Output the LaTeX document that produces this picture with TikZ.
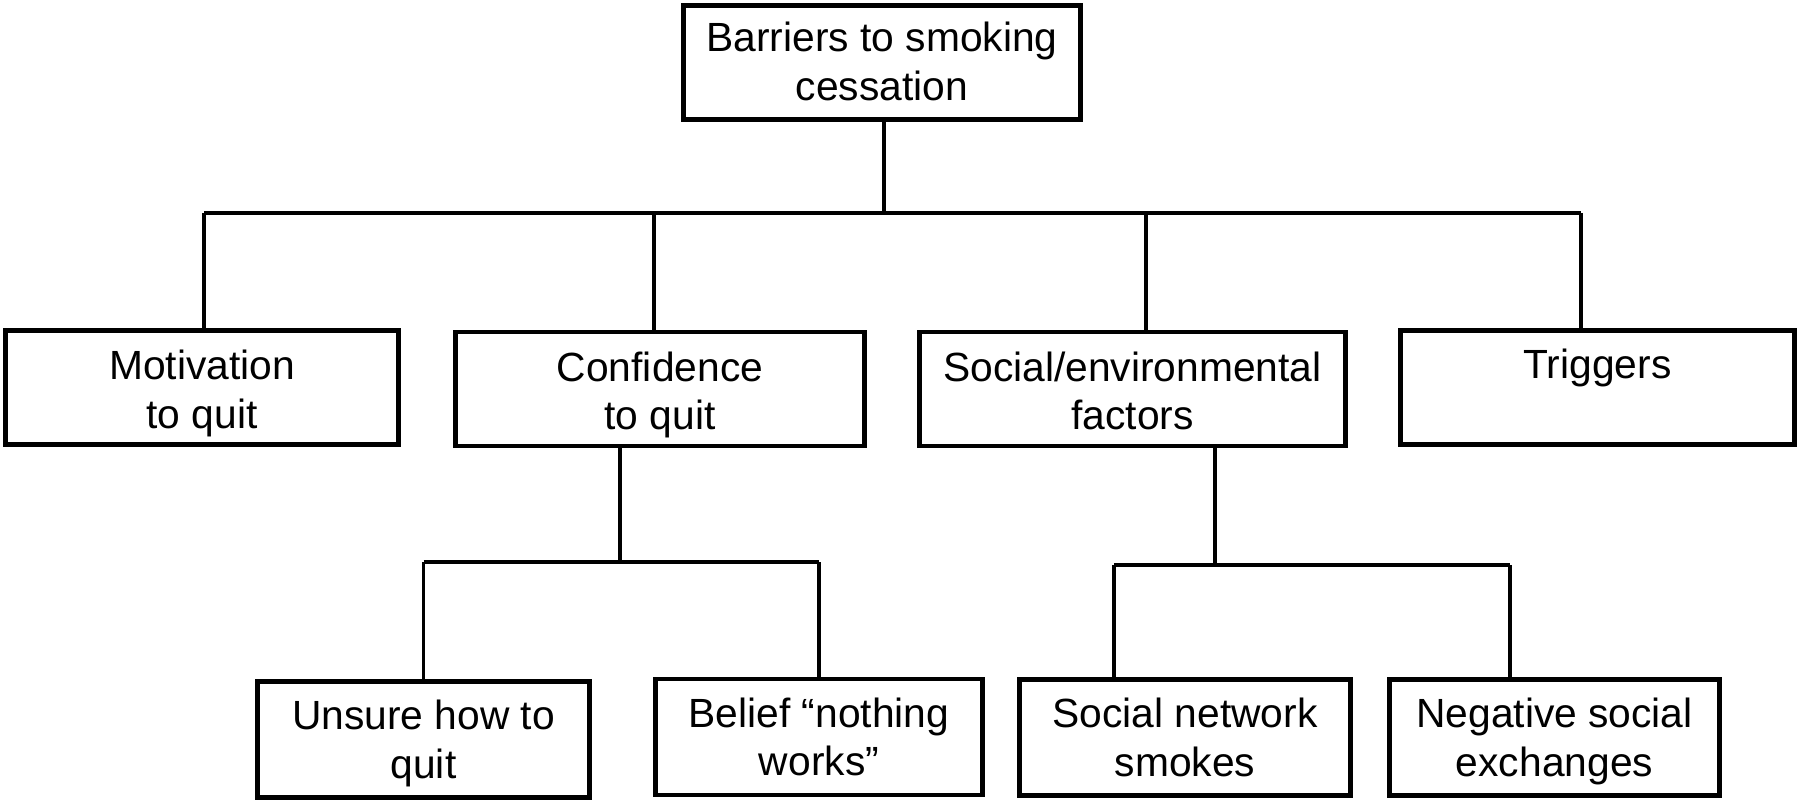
\documentclass[tikz,border=0pt]{standalone}
\usepackage{fontspec}
\setmainfont{Liberation Sans}
\usetikzlibrary{positioning}

\tikzset{
    box/.style={draw, line width=1.4pt, align=center, inner sep=0pt,
        minimum height=1.14cm, text height=0.77cm, text depth=0pt,
        font=\fontsize{11.6}{13.7}\selectfont},
    link/.style={line width=1.1pt},
}

\begin{document}
\begin{tikzpicture}
    \useasboundingbox (0,0) rectangle (18,-8.02);
    % Top box
    \node[box, minimum width=3.97cm, text height=0.75cm] (barriers) at (8.82,-0.625) {Barriers to smoking\\cessation};
    % Second row
    \node[box, minimum width=3.93cm, text height=0.81cm] (motivation) at (2.02,-3.875) {Motivation\\to quit};
    \node[box, minimum width=4.09cm, text height=0.81cm] (confidence) at (6.60,-3.89) {Confidence\\to quit};
    \node[box, minimum width=4.26cm, text height=0.81cm] (social) at (11.325,-3.89) {Social/environmental\\factors};
    \node[box, minimum width=3.94cm, text height=0pt, text depth=0.19cm] (triggers) at (15.975,-3.875) {Triggers};
    % Third row
    \node[box, minimum width=3.32cm, minimum height=1.16cm] (unsure) at (4.235,-7.395) {Unsure how to\\quit};
    \node[box, minimum width=3.27cm, minimum height=1.16cm] (belief) at (8.19,-7.37) {Belief “nothing\\works”};
    \node[box, minimum width=3.31cm, minimum height=1.16cm] (network) at (11.85,-7.375) {Social network\\smokes};
    \node[box, minimum width=3.30cm, minimum height=1.16cm] (negative) at (15.545,-7.375) {Negative social\\exchanges};
    %
    % Connectors
    %
    \coordinate (busA) at (0,-2.13);
    \coordinate (busB) at (0,-5.62);
    \coordinate (busC) at (0,-5.65);
    \coordinate (topout) at ([xshift=0.2mm]barriers.south);
    \coordinate (motin) at ([xshift=0.2mm]motivation.north);
    \coordinate (confin) at ([xshift=-0.6mm]confidence.north);
    \coordinate (socin) at ([xshift=1.35mm]social.north);
    \coordinate (trigin) at ([xshift=-1.65mm]triggers.north);
    \draw[link] (topout) -- (topout |- busA);
    \draw[link] (motin |- busA) -- (trigin |- busA);
    \draw[link] (motin) -- (motin |- busA);
    \draw[link] (confin) -- (confin |- busA);
    \draw[link] (socin) -- (socin |- busA);
    \draw[link] (trigin) -- (trigin |- busA);
    % Confidence branch
    \coordinate (confout) at ([xshift=-4mm]confidence.south);
    \draw[link] (confout) -- (confout |- busB);
    \draw[link] (unsure.north |- busB) -- (belief.north |- busB);
    \draw[link] (unsure.north) -- (unsure.north |- busB);
    \draw[link] (belief.north) -- (belief.north |- busB);
    % Social branch
    \coordinate (socout) at ([xshift=8.25mm]social.south);
    \coordinate (netin) at ([xshift=-7.1mm]network.north);
    \coordinate (negin) at ([xshift=-4.45mm]negative.north);
    \draw[link] (socout) -- (socout |- busC);
    \draw[link] (netin |- busC) -- (negin |- busC);
    \draw[link] (netin) -- (netin |- busC);
    \draw[link] (negin) -- (negin |- busC);
\end{tikzpicture}
\end{document}
